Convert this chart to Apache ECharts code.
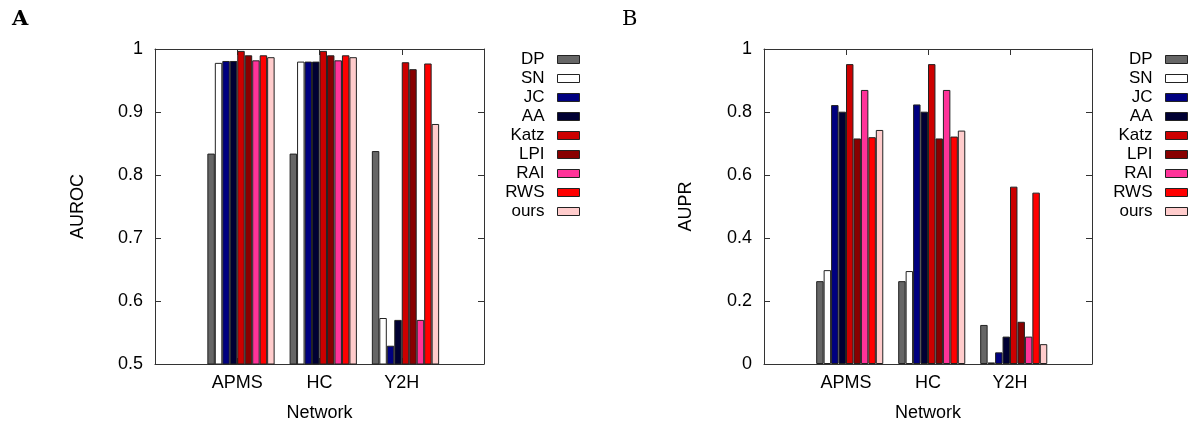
<!DOCTYPE html>
<html><head><meta charset="utf-8">
<script src="https://cdn.jsdelivr.net/npm/echarts@6/dist/echarts.min.js"></script>
<style>html,body{margin:0;padding:0;background:#fff}#c{width:1198px;height:423px}</style>
</head><body><div id="c"></div>
<script>
const categories = ['APMS', 'HC', 'Y2H'];
const methods = ['DP', 'SN', 'JC', 'AA', 'Katz', 'LPI', 'RAI', 'RWS', 'ours'];
const aurocAPMS = [0.834, 0.978, 0.981, 0.981, 0.997, 0.990, 0.982, 0.990, 0.987];
const aurocHC   = [0.834, 0.980, 0.980, 0.980, 0.997, 0.990, 0.982, 0.990, 0.987];
const aurocY2H  = [0.838, 0.573, 0.529, 0.570, 0.979, 0.968, 0.570, 0.977, 0.881];
const auprAPMS  = [0.263, 0.298, 0.822, 0.801, 0.952, 0.716, 0.870, 0.720, 0.743];
const auprHC    = [0.263, 0.295, 0.824, 0.801, 0.952, 0.716, 0.870, 0.722, 0.741];
const auprY2H   = [0.124, 0.005, 0.037, 0.087, 0.563, 0.134, 0.087, 0.544, 0.063];
const palette = ['#666666', '#ffffff', '#000080', '#000033', '#cc0000', '#880000', '#ff3399', '#ff0000', '#ffcccc'];

const FONT = 'Liberation Sans, Arial, Helvetica, sans-serif';
const xCats = [''].concat(categories, ['']);
function colData(groups, i) { return ['-'].concat(groups.map(g => g[i]), ['-']); }

const panels = [
  { groups: [aurocAPMS, aurocHC, aurocY2H], min: 0.5, max: 1, interval: 0.1, name: 'AUROC', left: 155, width: 329, nameGap: 68 },
  { groups: [auprAPMS, auprHC, auprY2H], min: 0, max: 1, interval: 0.2, name: 'AUPR', left: 764, width: 328, nameGap: 69 }
];

const grid = [], xAxis = [], yAxis = [], series = [];
panels.forEach((p, g) => {
  grid.push({ left: p.left, top: 49, width: p.width, height: 315, show: false, containLabel: false, outerBoundsMode: 'none' });
  const lineStyle = { color: '#333', width: 1 };
  xAxis.push({
    gridIndex: g, type: 'category', data: xCats, boundaryGap: false, position: 'bottom',
    axisLine: { show: true, onZero: false, lineStyle },
    axisTick: { show: true, inside: true, length: 6, interval: 0, lineStyle },
    axisLabel: { interval: 0, margin: 10, fontSize: 18, color: '#000', fontFamily: FONT },
    splitLine: { show: false },
    name: 'Network', nameLocation: 'middle', nameGap: 40,
    nameTextStyle: { fontSize: 18, color: '#000', fontFamily: FONT }
  });
  xAxis.push({
    gridIndex: g, type: 'category', data: xCats, boundaryGap: false, position: 'top',
    axisLine: { show: true, onZero: false, lineStyle },
    axisTick: { show: true, inside: true, length: 6, interval: 0, lineStyle },
    axisLabel: { show: false }, splitLine: { show: false }
  });
  yAxis.push({
    gridIndex: g, type: 'value', min: p.min, max: p.max, interval: p.interval, position: 'left',
    axisLine: { show: true, onZero: false, lineStyle },
    axisTick: { show: true, inside: true, length: 6, lineStyle },
    axisLabel: { margin: 12, fontSize: 18, color: '#000', fontFamily: FONT },
    splitLine: { show: false },
    name: p.name, nameLocation: 'middle', nameGap: p.nameGap,
    nameTextStyle: { fontSize: 18, color: '#000', fontFamily: FONT }
  });
  yAxis.push({
    gridIndex: g, type: 'value', min: p.min, max: p.max, interval: p.interval, position: 'right',
    axisLine: { show: true, onZero: false, lineStyle },
    axisTick: { show: true, inside: true, length: 6, lineStyle },
    axisLabel: { show: false }, splitLine: { show: false }
  });
  // leading empty slot: gnuplot clusters are offset by half a bar
  series.push({ type: 'bar', name: '_pad' + g, xAxisIndex: 2 * g, yAxisIndex: 2 * g, data: [],
    barWidth: '9.09%', barGap: '0%' });
  methods.forEach((m, i) => {
    series.push({
      type: 'bar', name: m, xAxisIndex: 2 * g, yAxisIndex: 2 * g,
      data: colData(p.groups, i), barWidth: '9.09%', barGap: '0%',
      itemStyle: { color: palette[i], borderColor: '#222', borderWidth: 1 },
      emphasis: { disabled: true }, animation: false
    });
  });
});

const legendBase = {
  orient: 'vertical', align: 'right', top: 51, padding: 0,
  itemWidth: 22, itemHeight: 8, itemGap: 2, icon: 'rect', selectedMode: false,
  data: methods,
  itemStyle: { borderColor: '#222', borderWidth: 1 },
  textStyle: { fontSize: 17, color: '#000', fontFamily: FONT, lineHeight: 17, padding: [0, 8, 0, 0] }
};

const chart = echarts.init(document.getElementById('c'), null, { renderer: 'canvas' });
chart.setOption({
  animation: false,
  backgroundColor: '#fff',
  title: [
    { text: 'A', left: 7, top: 4, textStyle: { fontFamily: 'DejaVu Serif', fontWeight: 'bold', fontSize: 21, color: '#000' } },
    { text: 'B', left: 617, top: 4, textStyle: { fontFamily: 'DejaVu Serif', fontWeight: 'normal', fontSize: 21, color: '#000' } }
  ],
  legend: [
    Object.assign({}, legendBase, { right: 618 }),
    Object.assign({}, legendBase, { right: 10 })
  ],
  grid, xAxis, yAxis, series
});
</script></body></html>
